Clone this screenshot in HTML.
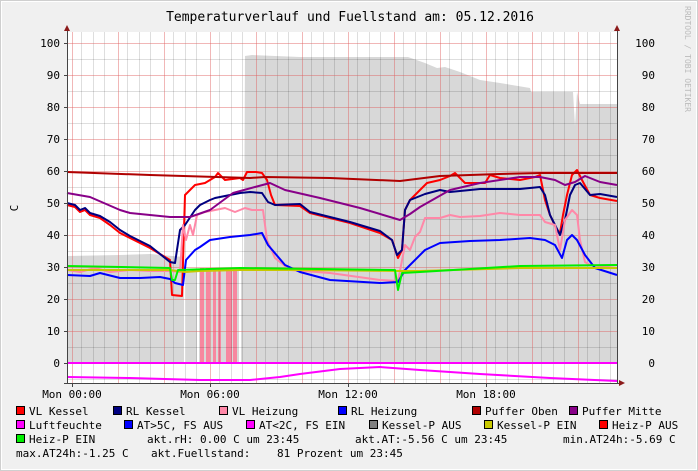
<!DOCTYPE html>
<html><head><meta charset="utf-8"><style>
html,body{margin:0;padding:0;background:#f0f0f0}
svg{display:block}
text{font-family:"DejaVu Sans Mono","Liberation Mono",monospace;fill:#000}
</style></head><body>
<svg width="698" height="471" viewBox="0 0 698 471" xmlns="http://www.w3.org/2000/svg">
<rect x="0" y="0" width="698" height="471" fill="#f0f0f0"/>
<rect x="0.5" y="0.5" width="697" height="470" fill="none" stroke="#cfcfcf"/>
<rect x="1.5" y="1.5" width="695" height="468" fill="none" stroke="#ffffff"/>
<text x="350" y="21" font-size="13" text-anchor="middle">Temperaturverlauf und Fuellstand am: 05.12.2016</text>
<rect x="67" y="32" width="550" height="351" fill="#fff"/>
<polygon fill="#d8d8d8" points="67,363 67,256 120,255 150,254 184,257 184,271 244,270 245,56 252,55 300,57 400,57 408,57 425,63 437,68 445,67 460,72 480,80 500,83 530,88 531,92 573,92 575,126 577,92 580,104 617,104 617,363"/>
<g fill="#fff"><rect x="184" y="268" width="2" height="95"/><rect x="197" y="268" width="2" height="95"/><rect x="239" y="268" width="2" height="95"/></g>
<g fill="#f7879f"><rect x="200" y="268" width="4" height="95"/><rect x="206" y="268" width="4" height="95"/><rect x="213" y="268" width="3" height="95"/><rect x="218" y="268" width="3" height="95"/><rect x="226" y="268" width="6" height="95"/><rect x="233" y="268" width="4" height="95"/></g>
<g stroke="#000" stroke-opacity="0.13" stroke-width="1">
<path d="M67,59.5H617M67,91.5H617M67,123.5H617M67,155.5H617M67,187.5H617M67,219.5H617M67,251.5H617M67,283.5H617M67,315.5H617M67,347.5H617M67,379.5H617"/>
<path d="M81.5,32V383M93.5,32V383M104.5,32V383M127.5,32V383M139.5,32V383M150.5,32V383M173.5,32V383M185.5,32V383M196.5,32V383M219.5,32V383M231.5,32V383M242.5,32V383M265.5,32V383M277.5,32V383M288.5,32V383M311.5,32V383M323.5,32V383M334.5,32V383M357.5,32V383M369.5,32V383M380.5,32V383M403.5,32V383M415.5,32V383M426.5,32V383M449.5,32V383M461.5,32V383M472.5,32V383M495.5,32V383M507.5,32V383M518.5,32V383M541.5,32V383M553.5,32V383M564.5,32V383M587.5,32V383M599.5,32V383M610.5,32V383"/>
</g>
<g stroke="#e06060" stroke-opacity="0.45" stroke-width="1">
<path d="M67,43.5H617M67,75.5H617M67,107.5H617M67,139.5H617M67,171.5H617M67,203.5H617M67,235.5H617M67,267.5H617M67,299.5H617M67,331.5H617M67,363.5H617"/>
<path d="M72.5,32V383M118.5,32V383M164.5,32V383M210.5,32V383M256.5,32V383M302.5,32V383M348.5,32V383M394.5,32V383M440.5,32V383M486.5,32V383M532.5,32V383M578.5,32V383"/>
</g>
<g fill="none" stroke-width="2" stroke-linejoin="round">
<polyline stroke="#ff0000" points="67,205 75,207 80,212 85,210 90,215 100,218 110,225 120,233 130,238 150,248 170,260 172,295 182,296 185,195 195,185 205,183 215,177 218,173 225,180 240,178 243,180 247,172 256,172 262,173 267,180 271,195 275,205 300,206 310,213 350,223 380,233 392,240 398,258 402,250 405,210 410,200 415,195 420,190 427,183 440,180 450,176 455,173 465,183 485,183 490,175 500,178 520,180 535,177 540,175 545,200 550,215 557,230 560,233 563,215 567,195 572,175 577,170 582,180 590,195 600,198 617,201"/>
<polyline stroke="#000080" points="67,203 75,205 80,210 85,208 90,213 100,216 110,222 120,230 130,236 150,246 170,262 175,263 180,230 185,225 195,210 200,205 210,200 215,198 230,195 240,193 250,192 262,193 268,202 275,205 300,204 310,212 350,222 380,231 392,240 397,255 402,250 405,210 410,200 425,194 440,190 450,192 480,189 520,189 540,187 545,195 550,215 555,225 560,235 565,220 570,195 575,185 580,183 590,195 600,194 617,197"/>
<polyline stroke="#ff88a8" points="67,270 80,272 95,268 110,272 130,270 150,271 170,271 180,272 183,225 186,240 190,225 193,235 197,215 205,212 215,210 225,208 235,212 245,208 252,210 263,210 267,240 275,258 290,270 330,273 380,280 398,281 405,245 410,250 415,237 420,232 425,218 440,218 450,215 460,217 480,216 500,213 520,215 540,215 545,222 555,225 560,250 565,220 572,210 577,215 580,240 585,262 590,265 617,268"/>
<polyline stroke="#0000ff" points="67,275 90,276 100,273 120,278 140,278 160,277 170,279 175,283 183,285 186,260 195,250 200,247 210,240 230,237 250,235 262,233 268,245 285,265 300,272 330,280 380,283 398,282 405,270 410,265 425,250 440,243 470,241 500,240 530,238 545,240 555,245 562,258 567,240 572,235 577,240 585,255 595,268 617,275"/>
<polyline stroke="#b00000" points="67,172 150,175 250,178 265,177 330,178 400,181 440,176 500,174 540,173 617,173"/>
<polyline stroke="#880088" points="67,193 90,197 120,210 130,213 170,217 190,217 210,210 233,193 255,187 270,183 285,190 320,198 360,208 400,220 410,214 420,207 450,190 480,183 520,177 540,177 555,180 565,185 575,182 585,176 600,182 617,185"/>
<polyline stroke="#c8c800" points="67,270 170,270 185,272 200,271 240,270 300,270 400,271 420,271 520,268 617,268"/>
<polyline stroke="#00ee00" points="67,266 170,268 172,280 175,280 178,270 240,268 395,270 398,290 402,273 420,272 520,266 617,265"/>
<polyline stroke="#ff00ff" points="67,363 617,363"/>
<polyline stroke="#ff00ff" points="67,377 130,378 200,380 250,380 280,377 300,374 340,369 380,367 420,370 480,374 550,378 617,381"/>
</g>
<g stroke="#444" stroke-width="1">
<path d="M67.5,383V30M617.5,383V30M64,383.5H620"/>
<path d="M64,43.5H67M64,75.5H67M64,107.5H67M64,139.5H67M64,171.5H67M64,203.5H67M64,235.5H67M64,267.5H67M64,299.5H67M64,331.5H67M64,363.5H67"/>
<path d="M72.5,383V387M210.5,383V387M348.5,383V387M486.5,383V387"/>
</g>
<polygon points="64,31 70,31 67,25" fill="#8b1a1a"/>
<polygon points="614,31 620,31 617,25" fill="#8b1a1a"/>
<polygon points="619,380 619,386 625,383" fill="#8b1a1a"/>
<g font-size="11" text-anchor="end">
<text x="60" y="47">100</text><text x="60" y="79">90</text><text x="60" y="111">80</text><text x="60" y="143">70</text><text x="60" y="175">60</text><text x="60" y="207">50</text><text x="60" y="239">40</text><text x="60" y="271">30</text><text x="60" y="303">20</text><text x="60" y="335">10</text><text x="60" y="367">0</text>
<text x="655" y="47">100</text><text x="655" y="79">90</text><text x="655" y="111">80</text><text x="655" y="143">70</text><text x="655" y="175">60</text><text x="655" y="207">50</text><text x="655" y="239">40</text><text x="655" y="271">30</text><text x="655" y="303">20</text><text x="655" y="335">10</text><text x="655" y="367">0</text>
</g>
<text font-size="11" transform="translate(18,208) rotate(-90)" text-anchor="middle">C</text>
<text font-size="8" style="fill:#bbb" transform="translate(685,6) rotate(90)">RRDTOOL / TOBI OETIKER</text>
<g font-size="11" text-anchor="middle">
<text x="72" y="398">Mon 00:00</text><text x="210" y="398">Mon 06:00</text><text x="348" y="398">Mon 12:00</text><text x="486" y="398">Mon 18:00</text>
</g>
<g stroke="#000" stroke-width="1">
<rect x="16.5" y="406.5" width="8" height="8" fill="#ff0000"/>
<rect x="113.5" y="406.5" width="8" height="8" fill="#000080"/>
<rect x="219.5" y="406.5" width="8" height="8" fill="#ff88a8"/>
<rect x="338.5" y="406.5" width="8" height="8" fill="#0000ff"/>
<rect x="472.5" y="406.5" width="8" height="8" fill="#b00000"/>
<rect x="569.5" y="406.5" width="8" height="8" fill="#880088"/>
<rect x="16.5" y="420.5" width="8" height="8" fill="#ff00ff"/>
<rect x="124.5" y="420.5" width="8" height="8" fill="#0000ff"/>
<rect x="246.5" y="420.5" width="8" height="8" fill="#ff00ff"/>
<rect x="369.5" y="420.5" width="8" height="8" fill="#808080"/>
<rect x="484.5" y="420.5" width="8" height="8" fill="#c8c800"/>
<rect x="599.5" y="420.5" width="8" height="8" fill="#ff0000"/>
<rect x="16.5" y="434.5" width="8" height="8" fill="#00ee00"/>
</g>
<g font-size="11">
<text x="29" y="415">VL Kessel</text><text x="126" y="415">RL Kessel</text><text x="232" y="415">VL Heizung</text><text x="351" y="415">RL Heizung</text><text x="485" y="415">Puffer Oben</text><text x="582" y="415">Puffer Mitte</text>
<text x="29" y="429">Luftfeuchte</text><text x="137" y="429">AT&gt;5C, FS AUS</text><text x="259" y="429">AT&lt;2C, FS EIN</text><text x="382" y="429">Kessel-P AUS</text><text x="497" y="429">Kessel-P EIN</text><text x="612" y="429">Heiz-P AUS</text>
<text x="29" y="443">Heiz-P EIN</text><text x="147" y="443">akt.rH: 0.00 C um 23:45</text><text x="355" y="443">akt.AT:-5.56 C um 23:45</text><text x="563" y="443">min.AT24h:-5.69 C</text>
<text x="16" y="457">max.AT24h:-1.25 C</text><text x="151" y="457">akt.Fuellstand:</text><text x="277" y="457">81 Prozent um 23:45</text>
</g>
</svg>
</body></html>
